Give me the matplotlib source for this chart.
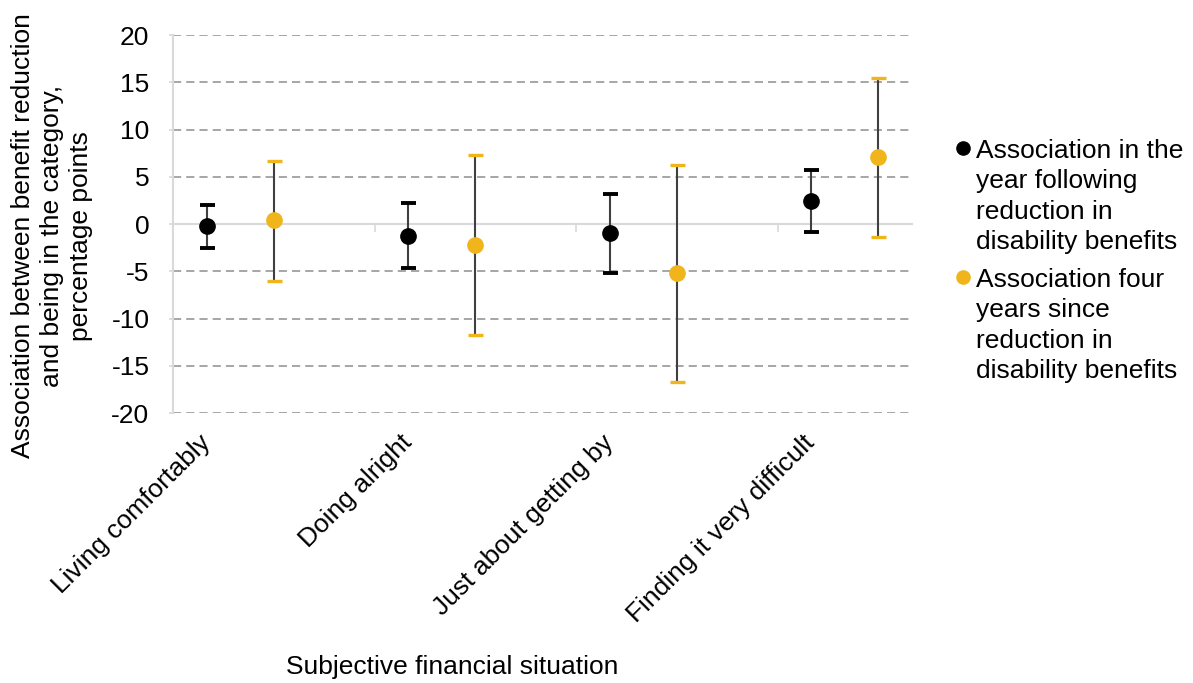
import numpy as np
import matplotlib
matplotlib.use('Agg')
import matplotlib.pyplot as plt
from matplotlib.lines import Line2D
from matplotlib.transforms import blended_transform_factory, offset_copy

plt.rcParams['font.family'] = ['Liberation Sans', 'DejaVu Sans']
plt.rcParams['axes.unicode_minus'] = False

categories = ['Living comfortably', 'Doing alright', 'Just about getting by', 'Finding it very difficult']

# association in the year following reduction
year1_est = [-0.2, -1.3, -1.0, 2.4]
year1_lo = [-2.5, -4.7, -5.2, -0.8]
year1_hi = [2.0, 2.2, 3.2, 5.7]

# association four years since reduction
year4_est = [0.4, -2.2, -5.2, 7.1]
year4_lo = [-6.0, -11.7, -16.7, -1.4]
year4_hi = [6.7, 7.3, 6.2, 15.5]

legend_labels = ['Association in the\nyear following\nreduction in\ndisability benefits',
                 'Association four\nyears since\nreduction in\ndisability benefits']
ylabel = 'Association between benefit reduction\nand being in the category,\npercentage points'
xlabel = 'Subjective financial situation'

black = '#000000'
yellow = '#F1B51C'

W, H = 1193, 683
fig = plt.figure(figsize=(W / 100, H / 100), dpi=100)
ax = fig.add_axes([173 / W, 1 - 413 / H, (912 - 173) / W, (413 - 35) / H])

# 11 slots on the category axis, 3 per group, 2 used
slot1 = np.arange(len(categories)) * 3
slot4 = slot1 + 1

def draw(xs, est, lo, hi, color, capw):
    est = np.array(est)
    err = np.vstack([est - np.array(lo), np.array(hi) - est])
    eb = ax.errorbar(xs, est, yerr=err, fmt='o', color=color, ms=11, mec=color,
                     ecolor='#404040', elinewidth=1.5, capsize=5.4, capthick=capw, zorder=3)
    for c in eb[1]:
        c.set_color(color)
        c.set_markeredgecolor(color)
        c.set_zorder(4)

draw(slot1, year1_est, year1_lo, year1_hi, black, 2.8)
draw(slot4, year4_est, year4_lo, year4_hi, yellow, 2.4)

ax.set_xlim(-0.5, 10.5)
ax.set_ylim(-20, 20)
ax.set_yticks(np.arange(-20, 21, 5))
ax.tick_params(axis='y', labelsize=19, length=3, color='#D9D9D9', pad=14, width=1.2)
for y in np.arange(-20, 21, 5):
    if y != 0:
        ax.axhline(y, color='#A6A6A6', lw=1.4, ls=(0, (4.2, 2.6)), zorder=1)

for s in ['top', 'right']:
    ax.spines[s].set_visible(False)
ax.spines['left'].set_color('#D9D9D9')
ax.spines['left'].set_linewidth(1.5)
ax.spines['bottom'].set_position(('data', 0))
ax.spines['bottom'].set_color('#D9D9D9')
ax.spines['bottom'].set_linewidth(1.5)
ax.set_xticks([2.5, 5.5, 8.5])
ax.set_xticklabels([])
ax.tick_params(axis='x', length=6, color='#D9D9D9', width=1.2)

trans = blended_transform_factory(ax.transData, ax.transAxes)
trans = offset_copy(trans, fig=fig, x=0, y=-26, units='dots')
for x, lab in zip(slot1, categories):
    ax.text(x, 0, lab, transform=trans, rotation=45, rotation_mode='anchor',
            ha='right', va='center', fontsize=19)

fig.text(52 / W, 1 - 236 / H, ylabel, rotation=90, ha='center', va='center',
         fontsize=19, multialignment='center', linespacing=1.28)
fig.text(452 / W, 1 - 667 / H, xlabel, ha='center', va='center', fontsize=19)

# legend drawn by hand so the marker sits on the first line
for i, (lab, col) in enumerate(zip(legend_labels, [black, yellow])):
    ymark = 1 - (148 + i * 129) / H
    fig.add_artist(Line2D([963 / W], [ymark], marker='o', color=col, ms=9.5,
                          transform=fig.transFigure, ls='none'))
    fig.text(976 / W, ymark + 9 / H, lab, ha='left', va='top', fontsize=19,
             linespacing=1.34)

fig.savefig('out.png', dpi=100)
